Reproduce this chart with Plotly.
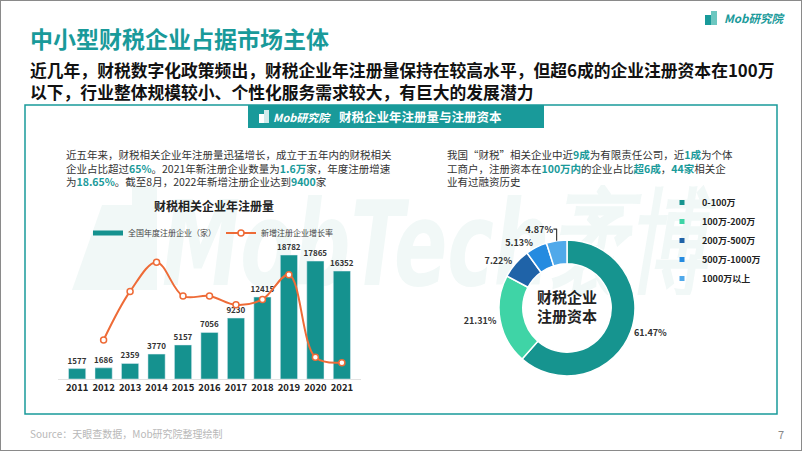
import base64
import plotly.graph_objects as go

# ---------------- data ----------------
years = ["2011", "2012", "2013", "2014", "2015", "2016", "2017", "2018", "2019", "2020", "2021"]
registrations = [1577, 1686, 2359, 3770, 5157, 7056, 9230, 12415, 18782, 17865, 16352]
growth_rate = [None, 6.91, 39.92, 59.81, 36.79, 36.83, 30.81, 34.50, 51.29, -4.88, -8.47]

capital_labels = ["0-100万", "100万-200万", "200万-500万", "500万-1000万", "1000万以上"]
capital_share = [61.47, 21.31, 7.22, 5.13, 4.87]
capital_text = ["61.47%", "21.31%", "7.22%", "5.13%", "4.87%"]

# ---------------- style ----------------
W, H = 802, 451
TEAL = "#199a9a"
BAR = "#15928f"
ORANGE = "#ee6b37"
PIE_COLORS = ["#16948f", "#3fd4a6", "#1f63a8", "#258be0", "#50a9ea"]
FONT = "Noto Sans CJK SC"
DARK = "#2b2b2b"


def px(x):
    return x / W


def py(y):
    return 1 - y / H


fig = go.Figure()

fig.add_trace(go.Bar(
    x=years, y=registrations, name="全国年度注册企业（家）",
    marker=dict(color=BAR), texttemplate="%{y:.0f}", textposition="outside",
    constraintext="none", cliponaxis=False,
    textfont=dict(size=8, color="#333", family=FONT, weight="bold"),
    showlegend=False,
))
# legend entry for bars (thick short line like the reference)
fig.add_trace(go.Scatter(
    x=[None], y=[None], mode="lines", name="全国年度注册企业（家）",
    line=dict(color=BAR, width=5), legend="legend",
))
fig.add_trace(go.Scatter(
    x=years, y=growth_rate, name="新增注册企业增长率", yaxis="y2",
    mode="lines+markers", line=dict(color=ORANGE, width=2, shape="spline", smoothing=1.0),
    marker=dict(symbol="circle", size=6, color="white", line=dict(color=ORANGE, width=1.5)),
    connectgaps=False, cliponaxis=False, legend="legend",
))

fig.add_trace(go.Pie(
    labels=capital_labels, values=capital_share, text=capital_text,
    textinfo="text", textposition="outside", sort=False, direction="clockwise",
    rotation=0, hole=0.65,
    marker=dict(colors=PIE_COLORS, line=dict(color="white", width=1.5)),
    textfont=dict(size=9, color="#333", family=FONT, weight="bold"),
    title=dict(text="财税企业<br>注册资本", position="middle center",
               font=dict(size=15, color="#222", family=FONT, weight="bold")),
    domain=dict(x=[px(499), px(635)], y=[py(376), py(240)]),
    showlegend=False,
))

# legend entries for the donut (small square markers)
for lab, col in zip(capital_labels, PIE_COLORS):
    fig.add_trace(go.Scatter(
        x=[None], y=[None], mode="markers", name=lab,
        marker=dict(symbol="square", size=5, color=col),
        legend="legend2", showlegend=True,
    ))

shapes = [
    dict(type="rect", xref="paper", yref="paper", x0=0, x1=1, y0=0, y1=1,
         line=dict(color="#8a8a8a", width=2), layer="below"),
    dict(type="rect", xref="paper", yref="paper", x0=px(25), x1=px(777), y0=py(414), y1=py(105),
         line=dict(color=TEAL, width=1.5), layer="below"),
    dict(type="rect", xref="paper", yref="paper", x0=px(248), x1=px(544), y0=py(128), y1=py(105),
         fillcolor=TEAL, line=dict(width=0), layer="below"),
    # header band logo icon
    dict(type="rect", xref="paper", yref="paper", x0=px(259), x1=px(264), y0=py(123), y1=py(114),
         fillcolor="white", line=dict(width=0)),
    dict(type="rect", xref="paper", yref="paper", x0=px(264), x1=px(269), y0=py(123), y1=py(110),
         fillcolor="rgba(255,255,255,0.8)", line=dict(width=0)),
    # top-right logo icon
    dict(type="rect", xref="paper", yref="paper", x0=px(705), x1=px(711), y0=py(25), y1=py(15),
         fillcolor=TEAL, line=dict(width=0)),
    dict(type="rect", xref="paper", yref="paper", x0=px(711), x1=px(717), y0=py(25), y1=py(11),
         fillcolor="#6cc7c0", line=dict(width=0)),
]

ann = []


def note(x, y, text, size, color=DARK, xanchor="left", yanchor="middle", bold=False, italic=False, align="left"):
    ann.append(dict(
        xref="paper", yref="paper", x=px(x), y=py(y), text=text, showarrow=False,
        xanchor=xanchor, yanchor=yanchor, align=align,
        font=dict(size=size, color=color, family=FONT, weight="bold" if bold else "normal",
                  style="italic" if italic else "normal"),
    ))


note(28, 38, "中小型财税企业占据市场主体", 23, color=TEAL, bold=True)
note(28, 70, "近几年，财税数字化政策频出，财税企业年注册量保持在较高水平，但超6成的企业注册资本在100万",
     16.8, color="#111", bold=True)
note(28, 92, "以下，行业整体规模较小、个性化服务需求较大，有巨大的发展潜力", 16.8, color="#111", bold=True)
note(787, 18, "Mob研究院", 11.5, color=TEAL, italic=True, bold=True, xanchor="right")
note(271, 117, "Mob研究院", 11, color="white", italic=True, bold=True)
note(337, 116, "财税企业年注册量与注册资本", 12.5, color="white", bold=True)

hl = lambda s: f"<b><span style='color:{TEAL}'>{s}</span></b>"
note(64, 168,
     "近五年来，财税相关企业年注册量迅猛增长，成立于五年内的财税相关<br>"
     f"企业占比超过{hl('65%')}。2021年新注册企业数量为{hl('1.6万')}家，年度注册增速<br>"
     f"为{hl('18.65%')}。截至8月，2022年新增注册企业达到{hl('9400')}家",
     10.5, color="#333")
note(445, 168,
     f"我国“财税”相关企业中近{hl('9成')}为有限责任公司，近{hl('1成')}为个体<br>"
     f"工商户，注册资本在{hl('100万内')}的企业占比{hl('超6成')}，{hl('44家')}相关企<br>"
     "业有过融资历史",
     10.5, color="#333")
note(214, 205, "财税相关企业年注册量", 12, color="#222", xanchor="center", bold=True)

note(28, 433, "Source：天眼查数据，Mob研究院整理绘制", 10, color="#b8b8b8")
note(786, 434, "7", 11, color="#888", xanchor="right")

# faint background watermark (decorative image, drawn below the plot)
wm_svg = (
    "<svg xmlns='http://www.w3.org/2000/svg' width='660' height='110' viewBox='0 0 660 110'>"
    "<polygon points='10,105 40,20 70,20 70,0 95,0 95,105' fill='rgba(20,130,125,0.06)'/>"
    "<text x='100' y='100' font-family='DejaVu Sans' font-style='italic' font-weight='bold' "
    "font-size='118' textLength='545' lengthAdjust='spacingAndGlyphs' "
    "fill='rgba(20,130,125,0.06)'>MobTech袤博</text></svg>"
)
wm_src = "data:image/svg+xml;base64," + base64.b64encode(wm_svg.encode("utf-8")).decode()

fig.update_layout(
    width=W, height=H, margin=dict(l=0, r=0, t=0, b=0),
    paper_bgcolor="white", plot_bgcolor="rgba(0,0,0,0)",
    font=dict(family=FONT, color=DARK),
    bargap=0.35,
    xaxis=dict(domain=[px(58.25), px(360.75)], type="category", showgrid=False,
               showline=True, linecolor="#e2e2e2", linewidth=1, ticks="",
               tickfont=dict(size=9.5, color="#222", family=FONT, weight="bold"), fixedrange=True),
    yaxis=dict(domain=[py(379), py(245)], range=[0, 20300], visible=False, showgrid=False),
    yaxis2=dict(overlaying="y", range=[-19.6, 71.5], visible=False, showgrid=False),
    legend=dict(orientation="h", x=px(88), y=py(233), xanchor="left", yanchor="middle",
                font=dict(size=8, color="#444", family=FONT), bgcolor="rgba(0,0,0,0)",
                itemclick=False),
    legend2=dict(orientation="v", x=px(662), y=py(188), xanchor="left", yanchor="top",
                 font=dict(size=9, color="#222", family=FONT, weight="bold"),
                 bgcolor="rgba(0,0,0,0)", tracegroupgap=0, itemclick=False),
    images=[dict(source=wm_src, xref="paper", yref="paper", x=px(62), y=py(185),
                 sizex=px(660), sizey=110 / H, sizing="stretch", xanchor="left",
                 yanchor="top", layer="below")],
    shapes=shapes, annotations=ann,
)

fig.write_html("out.html", config={"displayModeBar": False},
               post_script="document.body.style.margin='0';document.body.style.overflow='hidden';")
